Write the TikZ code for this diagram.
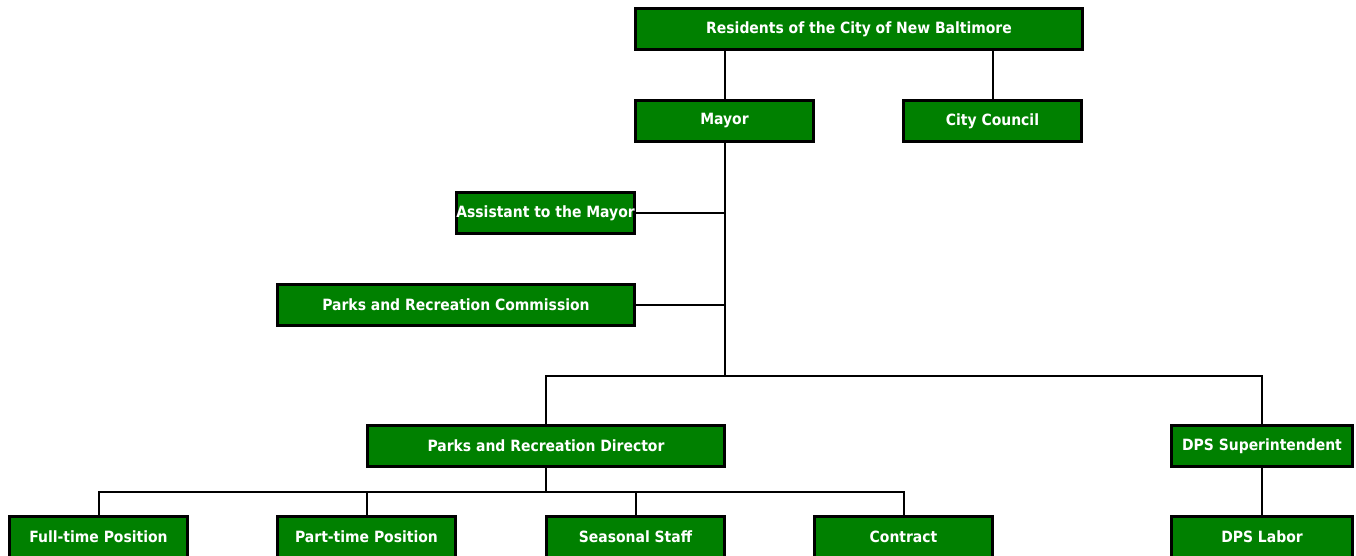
\documentclass[tikz,border=0pt]{standalone}
\usepackage{fontspec}
\setmainfont{DejaVu Sans Condensed}
\definecolor{boxgreen}{HTML}{008000}
\begin{document}
\begin{tikzpicture}[x=1pt,y=-1pt,
  orgbox/.style={draw=black,line width=3pt,fill=boxgreen,text=white,
    font=\fontsize{15.5}{18}\selectfont\bfseries,minimum height=41pt,
    minimum width=178pt,inner sep=0pt,anchor=center},
  wide/.style={minimum width=357pt},
  conn/.style={draw=black,line width=2pt}]
\useasboundingbox (0,0) rectangle (1356,556);
\begin{scope}
\clip (0,0) rectangle (1356,556);
\node[orgbox,minimum width=447pt] (res) at (859,29.5) {Residents of the City of New Baltimore};
\node[orgbox] (mayor) at (724.5,121) {Mayor};
\node[orgbox] (council) at (992.5,121) {City Council};
\node[orgbox] (asst) at (545.5,213) {\makebox[176pt]{Assistant to the Mayor}};
\node[orgbox,wide] (comm) at (456,304.5) {Parks and Recreation Commission};
\node[orgbox,wide] (dir) at (546,446) {Parks and Recreation Director};
\node[orgbox,minimum width=181pt] (dps) at (1262,446) {DPS Superintendent};
\node[orgbox,minimum width=181pt] (labor) at (1262,537) {DPS Labor};
\node[orgbox] (full) at (98.5,537) {Full-time Position};
\node[orgbox] (part) at (366.5,537) {Part-time Position};
\node[orgbox] (seas) at (635.5,537) {Seasonal Staff};
\node[orgbox] (contr) at (903.5,537) {Contract};
\coordinate (j1) at (725,376);
\coordinate (j2) at (546,492);
\end{scope}
\draw[conn] (res.south -| 725,0) -- (725,0 |- mayor.north);
\draw[conn] (res.south -| council.north) -- (council.north);
\draw[conn] (725,0 |- mayor.south) -- (j1);
\draw[conn] (asst.east) -- (asst.east -| j1);
\draw[conn] (comm.east) -- (comm.east -| j1);
\draw[conn] (dir.north) |- (j1) -| (dps.north);
\draw[conn] (dir.south) -- (j2);
\draw[conn] (full.north) |- (j2) -| (contr.north);
\draw[conn] (part.north) -- (part.north |- j2);
\draw[conn] (seas.north) -- (seas.north |- j2);
\draw[conn] (dps.south) -- (labor.north);
\end{tikzpicture}
\end{document}
